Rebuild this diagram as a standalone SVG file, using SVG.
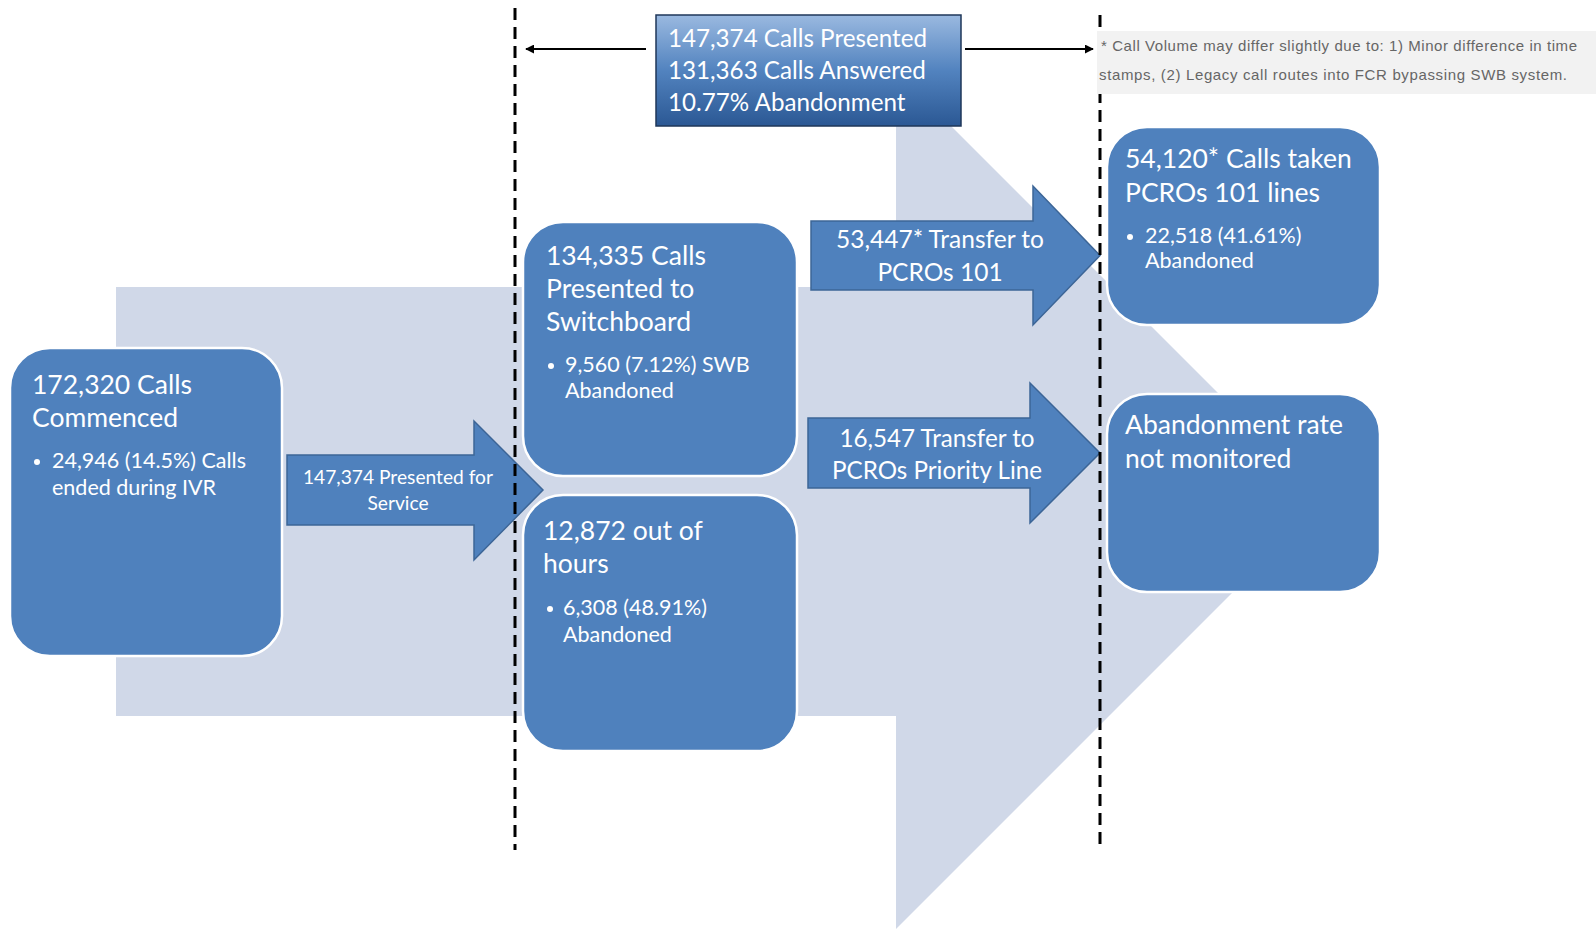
<svg xmlns="http://www.w3.org/2000/svg" width="1596" height="931" viewBox="0 0 1596 931">
  <defs>
    <linearGradient id="gTitle" x1="0" y1="0" x2="0" y2="1">
      <stop offset="0" stop-color="#9ab9e0"/>
      <stop offset="0.5" stop-color="#5283bf"/>
      <stop offset="1" stop-color="#2b5894"/>
    </linearGradient>
    <marker id="ah" viewBox="0 0 10 10" refX="9" refY="5" markerWidth="4.5" markerHeight="4.5" orient="auto-start-reverse">
      <path d="M0,0 L10,5 L0,10 z" fill="#000"/>
    </marker>
  </defs>
  <style>
    .box { fill: #4f81bd; stroke: #ffffff; stroke-width: 2.5; }
    .barrow { fill: #4f81bd; stroke: #3c6596; stroke-width: 1.5; }
    .t { font-family: Lato, "Open Sans", sans-serif; fill: #ffffff; }
    .h { font-size: 26.5px; }
    .b { font-size: 21.5px; }
    .dash { stroke: #000; stroke-width: 3; stroke-dasharray: 12 7; fill: none; }
    .conn { stroke: #000; stroke-width: 2; fill: none; }
    .note { font-family: "Liberation Sans", Arial, sans-serif; font-size: 15px; fill: #666666; }
  </style>
  <rect width="1596" height="931" fill="#ffffff"/>

  <g id="flow-background">
    <polygon points="116,287 896,287 896,71 1325,500 896,929 896,716 116,716" fill="#d0d8e8"/>
  </g>

  <g id="node-commenced">
    <rect class="box" x="10" y="348" width="272" height="308" rx="40" ry="40"/>
    <text class="t h" x="32" y="394">172,320 Calls</text>
    <text class="t h" x="32" y="427">Commenced</text>
    <circle cx="37" cy="462" r="3" fill="#fff"/>
    <text class="t b" x="52" y="468">24,946 (14.5%) Calls</text>
    <text class="t b" x="52" y="495">ended during IVR</text>
  </g>

  <g id="node-presented-service">
    <polygon class="barrow" points="287,455 474,455 474,421 543,490 474,560 474,525 287,525"/>
    <text class="t" x="398" y="484" font-size="19.2" text-anchor="middle">147,374 Presented for</text>
    <text class="t" x="398" y="510" font-size="19.2" text-anchor="middle">Service</text>
  </g>

  <g id="node-switchboard">
    <rect class="box" x="523" y="222" width="274" height="254" rx="40" ry="40"/>
    <text class="t h" x="546" y="265">134,335 Calls</text>
    <text class="t h" x="546" y="298">Presented to</text>
    <text class="t h" x="546" y="331">Switchboard</text>
    <circle cx="551" cy="366" r="3" fill="#fff"/>
    <text class="t b" x="565" y="372">9,560 (7.12%) SWB</text>
    <text class="t b" x="565" y="398">Abandoned</text>
  </g>

  <g id="node-out-of-hours">
    <rect class="box" x="523" y="495" width="274" height="256" rx="40" ry="40"/>
    <text class="t h" x="543" y="540">12,872 out of</text>
    <text class="t h" x="543" y="573">hours</text>
    <circle cx="550" cy="609" r="3" fill="#fff"/>
    <text class="t b" x="563" y="615">6,308 (48.91%)</text>
    <text class="t b" x="563" y="642">Abandoned</text>
  </g>

  <g id="node-transfer-101">
    <polygon class="barrow" points="811,221 1033,221 1033,186 1100,255.5 1033,325 1033,290 811,290"/>
    <text class="t" x="940" y="248" font-size="24.5" text-anchor="middle">53,447* Transfer to</text>
    <text class="t" x="940" y="281" font-size="24.5" text-anchor="middle">PCROs 101</text>
  </g>

  <g id="node-transfer-priority">
    <polygon class="barrow" points="808,418 1030,418 1030,383 1100,453 1030,523 1030,488 808,488"/>
    <text class="t" x="937" y="447" font-size="24.2" text-anchor="middle">16,547 Transfer to</text>
    <text class="t" x="937" y="479" font-size="24.2" text-anchor="middle">PCROs Priority Line</text>
  </g>

  <g id="node-pcros-101">
    <rect class="box" x="1107" y="127" width="273" height="198" rx="40" ry="40"/>
    <text class="t h" x="1125" y="168">54,120* Calls taken</text>
    <text class="t h" x="1125" y="202">PCROs 101 lines</text>
    <circle cx="1130" cy="237" r="3" fill="#fff"/>
    <text class="t b" x="1145" y="243">22,518 (41.61%)</text>
    <text class="t b" x="1145" y="268">Abandoned</text>
  </g>

  <g id="node-not-monitored">
    <rect class="box" x="1107" y="394" width="273" height="198" rx="40" ry="40"/>
    <text class="t h" x="1125" y="434">Abandonment rate</text>
    <text class="t h" x="1125" y="468">not monitored</text>
  </g>

  <g id="guides">
    <line class="dash" x1="515" y1="8" x2="515" y2="850"/>
    <line class="dash" x1="1100" y1="15" x2="1100" y2="847"/>
  </g>

  <g id="node-summary">
    <rect x="656" y="15" width="305" height="111" fill="url(#gTitle)" stroke="#1f3759" stroke-width="1.5"/>
    <text class="t" x="668" y="47" font-size="24.2">147,374 Calls Presented</text>
    <text class="t" x="668" y="79" font-size="24.2">131,363 Calls Answered</text>
    <text class="t" x="668" y="111" font-size="24.2">10.77% Abandonment</text>
  </g>

  <g id="node-note">
    <rect x="1097" y="31" width="499" height="63" fill="#f2f2f2"/>
    <text class="note" x="1101" y="51" textLength="476" lengthAdjust="spacing">* Call Volume may differ slightly due to: 1) Minor difference in time</text>
    <text class="note" x="1099" y="80" textLength="468" lengthAdjust="spacing">stamps, (2) Legacy call routes into FCR bypassing SWB system.</text>
  </g>

  <g id="connectors">
    <line class="conn" x1="646" y1="49" x2="526" y2="49" marker-end="url(#ah)"/>
    <line class="conn" x1="965" y1="49" x2="1093" y2="49" marker-end="url(#ah)"/>
  </g>
</svg>
